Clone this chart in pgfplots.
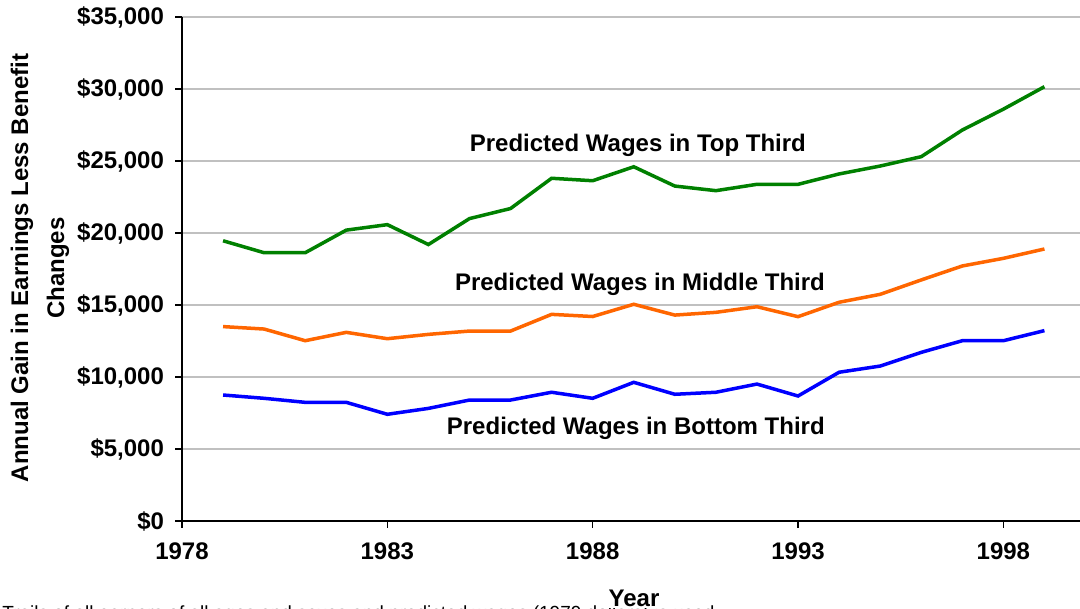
\documentclass[border=0pt]{standalone}
\usepackage{fontspec}
\setmainfont{Liberation Sans}
\usepackage{pgfplots}
\pgfplotsset{compat=1.18}
\definecolor{cgreen}{RGB}{0,128,0}
\definecolor{corange}{RGB}{255,102,0}
\definecolor{cblue}{RGB}{0,0,255}
\definecolor{cgrid}{RGB}{192,192,192}
\newcommand{\lbl}{\bfseries\fontsize{12}{14}\selectfont}
\begin{document}
\begin{tikzpicture}
\begin{axis}[
  at={(0,0)}, anchor=south west,
  scale only axis, width=451.75pt, height=252pt,
  xmin=1978, xmax=2000, ymin=0, ymax=35000,
  scaled y ticks=false, scaled x ticks=false,
  axis lines=left, axis line style={-, black, line width=1pt},
  ytick={0,5000,10000,15000,20000,25000,30000,35000},
  yticklabels={{\$0},{\$5,000},{\$10,000},{\$15,000},{\$20,000},{\$25,000},{\$30,000},{\$35,000}},
  xtick={1978,1983,1988,1993,1998},
  xticklabels={1978,1983,1988,1993,1998},
  ymajorgrids, grid style={cgrid, line width=0.6pt},
  tick align=outside, major tick length=3.5pt, tick style={black, line width=0.8pt},
  ticklabel style={font=\lbl},
  yticklabel style={xshift=-2pt},
  xticklabel style={yshift=-4pt},
]
\addplot[cgreen, line width=1.75pt] coordinates {
(1979,19460) (1980,18630) (1981,18630) (1982,20200) (1983,20580) (1984,19200)
(1985,21000) (1986,21700) (1987,23800) (1988,23630) (1989,24600) (1990,23260)
(1991,22940) (1992,23380) (1993,23380) (1994,24100) (1995,24650) (1996,25300)
(1997,27150) (1998,28600) (1999,30160)};
\addplot[corange, line width=1.75pt] coordinates {
(1979,13500) (1980,13330) (1981,12520) (1982,13100) (1983,12660) (1984,12960)
(1985,13190) (1986,13190) (1987,14350) (1988,14200) (1989,15050) (1990,14300)
(1991,14490) (1992,14880) (1993,14190) (1994,15190) (1995,15740) (1996,16740)
(1997,17710) (1998,18240) (1999,18890)};
\addplot[cblue, line width=1.75pt] coordinates {
(1979,8750) (1980,8520) (1981,8240) (1982,8240) (1983,7410) (1984,7820)
(1985,8400) (1986,8400) (1987,8940) (1988,8520) (1989,9630) (1990,8800)
(1991,8940) (1992,9510) (1993,8680) (1994,10330) (1995,10760) (1996,11710)
(1997,12520) (1998,12520) (1999,13220)};
\node[font=\lbl] at (axis cs:1989.1,26100) {Predicted Wages in Top Third};
\node[font=\lbl] at (axis cs:1989.15,16400) {Predicted Wages in Middle Third};
\node[font=\lbl] at (axis cs:1989.05,6460) {Predicted Wages in Bottom Third};
\end{axis}
\node[font=\fontsize{9.5}{11}\selectfont, anchor=base west, inner sep=0pt] at (-90pt,-49pt) {Trails of all earners of all ages and sexes and predicted wages (1979 dollars) is used};
\node[font=\lbl, rotate=90] at (-80pt,126.5pt) {Annual Gain in Earnings Less Benefit};
\node[font=\lbl, rotate=90] at (-62pt,126.5pt) {Changes};
\node[font=\lbl, fill=white, inner sep=1pt] at (226pt,-38.5pt) {Year};
\pgfresetboundingbox
\useasboundingbox (-91pt,-44pt) rectangle (449pt,260.5pt);
\end{tikzpicture}
\end{document}
